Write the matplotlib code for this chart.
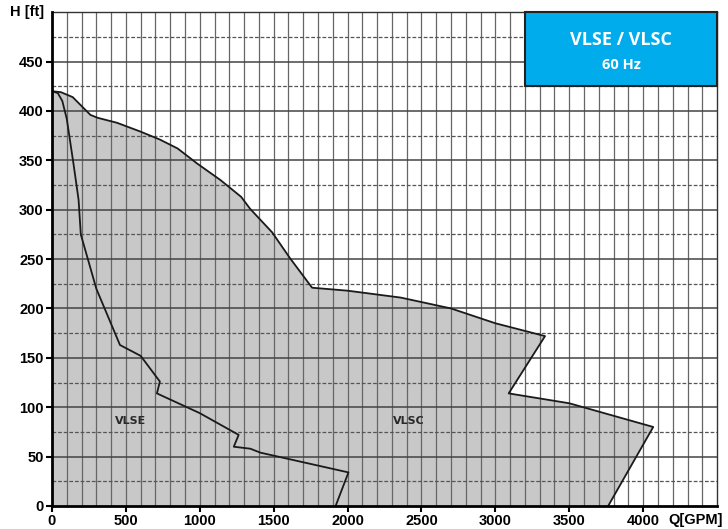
import matplotlib
matplotlib.use("Agg")
import matplotlib.pyplot as plt
from matplotlib.patches import Rectangle

# VLSC envelope (outer grey area)
vlsc_q = [0, 60, 140, 200, 260, 310, 440, 600, 730, 850, 980, 1140, 1280, 1340, 1490,
          1610, 1760, 2000, 2360, 2700, 3000, 3336, 3090, 3500, 4068, 3763]
vlsc_h = [420, 419, 414, 405, 396, 393, 388, 379, 371, 362, 347, 330, 313, 301, 277,
          251, 221, 218, 211, 200, 185, 172, 114, 104, 80, 0]

# VLSE curve
vlse_q = [0, 40, 70, 100, 120, 145, 180, 195, 300, 460, 600, 730, 710, 1000, 1263,
          1230, 1342, 1410, 2006, 1919]
vlse_h = [420, 418, 410, 392, 372, 347, 310, 275, 220, 163, 152, 126, 114, 94, 72,
          60, 58, 54, 34, 0]

x_ticks = [0, 500, 1000, 1500, 2000, 2500, 3000, 3500, 4000]
y_ticks = [0, 50, 100, 150, 200, 250, 300, 350, 400, 450]

fig = plt.figure(figsize=(7.28, 5.29), dpi=100)
ax = fig.add_axes([0.0714, 0.0435, 0.9136, 0.9335])

ax.set_xlim(0, 4500)
ax.set_ylim(0, 500)

# grid drawn by hand so it sits over the grey fill
for q in range(100, 4500, 100):
    ax.axvline(q, color="#666666", lw=0.9, zorder=2)
for h in range(25, 500, 25):
    if h % 50 == 0:
        ax.axhline(h, color="#444444", lw=1.1, zorder=2)
    else:
        ax.axhline(h, color="#555555", lw=0.9, ls=(0, (3, 1.5)), zorder=2)

ax.fill(vlsc_q + [0], vlsc_h + [0], color="#c8c8c8", lw=0, zorder=1)
ax.plot(vlsc_q, vlsc_h, color="#1a1a1a", lw=1.3, zorder=3)
ax.plot(vlse_q, vlse_h, color="#1a1a1a", lw=1.3, zorder=3)

ax.text(529, 86, "VLSE", fontsize=8, fontweight="bold", color="#2a2a2a",
        ha="center", va="center", family="DejaVu Sans", zorder=4)
ax.text(2414, 86, "VLSC", fontsize=8, fontweight="bold", color="#2a2a2a",
        ha="center", va="center", family="DejaVu Sans", zorder=4)

# title box
ax.add_patch(Rectangle((3200, 425), 1300, 75, facecolor="#00acec", edgecolor="#222222",
                       lw=1.5, zorder=5, clip_on=False))
ax.text(3850, 472, "VLSE / VLSC", fontsize=13, fontweight="bold", color="white",
        ha="center", va="center", family="Open Sans", zorder=6)
ax.text(3850, 446, "60 Hz", fontsize=10.5, fontweight="bold", color="white",
        ha="center", va="center", family="Open Sans", zorder=6)

ax.set_xticks(x_ticks)
ax.set_yticks(y_ticks)
ax.tick_params(axis="both", direction="out", length=4, width=1.5, labelsize=10.5, pad=2)
for lab in ax.get_xticklabels() + ax.get_yticklabels():
    lab.set_fontweight("bold")
    lab.set_family("Liberation Sans")

for s in ["left", "bottom"]:
    ax.spines[s].set_linewidth(2)
    ax.spines[s].set_color("black")
    ax.spines[s].set_zorder(7)
for s in ["top", "right"]:
    ax.spines[s].set_linewidth(1)
    ax.spines[s].set_color("#333333")

ax.text(-0.012, 1.0, "H [ft]", transform=ax.transAxes, fontsize=10.5, fontweight="bold",
        family="Liberation Sans", ha="right", va="center")
ax.text(4170, -14, "Q[GPM]", fontsize=10.5, fontweight="bold", family="Liberation Sans",
        ha="left", va="center", clip_on=False)

fig.savefig("out.png", dpi=100)
